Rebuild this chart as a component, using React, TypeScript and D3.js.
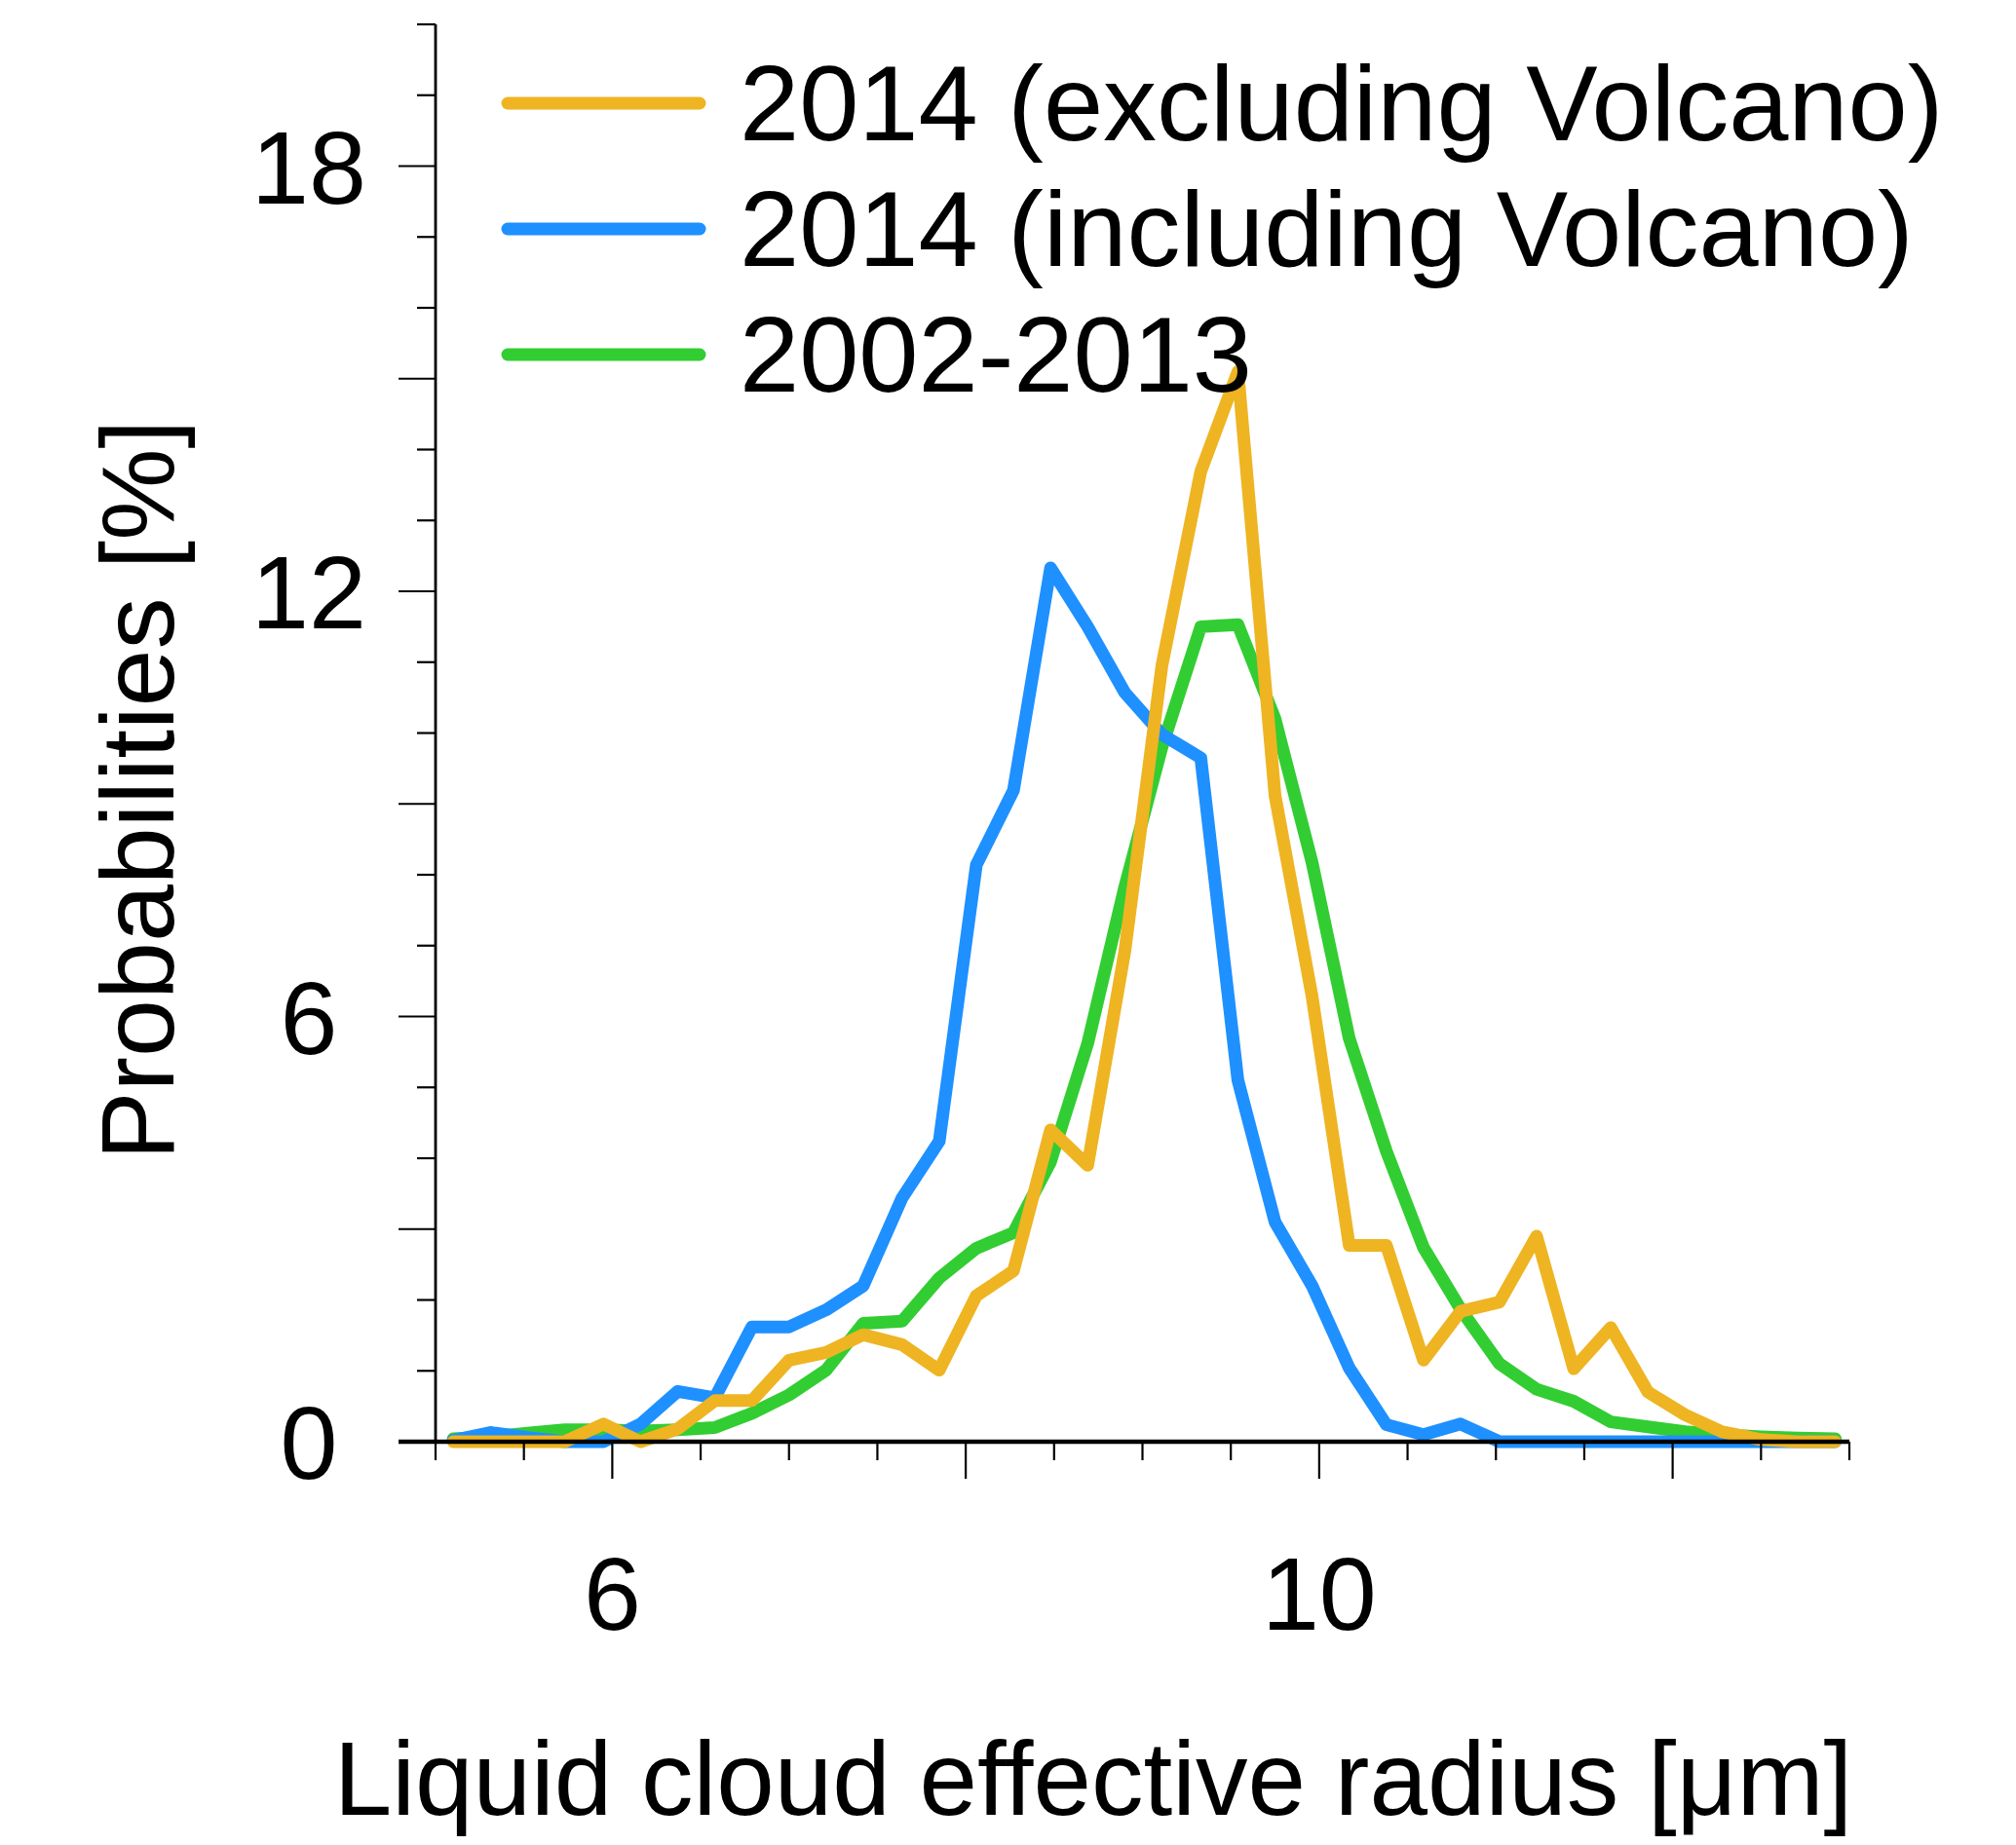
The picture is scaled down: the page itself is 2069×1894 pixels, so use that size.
import React from "react";
import * as d3 from "d3";

// Liquid cloud effective radius bin centres [µm]
const radius: number[] = [
  5.10, 5.31, 5.52, 5.73, 5.95, 6.16, 6.37, 6.58, 6.79, 7.00,
  7.21, 7.42, 7.64, 7.85, 8.06, 8.27, 8.48, 8.69, 8.90, 9.11,
  9.33, 9.54, 9.75, 9.96, 10.17, 10.38, 10.59, 10.80, 11.02, 11.23,
  11.44, 11.65, 11.86, 12.07, 12.28, 12.50, 12.71, 12.92,
];

// Probabilities [%]
const excludingVolcano: number[] = [
  0, 0, 0, 0, 0.25, 0.0, 0.18, 0.58, 0.58, 1.15,
  1.26, 1.51, 1.37, 1.01, 2.06, 2.41, 4.4, 3.9, 6.92, 10.95,
  13.69, 15.1, 9.12, 6.28, 2.77, 2.77, 1.15, 1.84, 1.97, 2.9,
  1.03, 1.61, 0.7, 0.38, 0.14, 0.03, 0, 0,
];

const includingVolcano: number[] = [
  0.02, 0.13, 0.06, 0, 0, 0.25, 0.71, 0.62, 1.62, 1.62,
  1.86, 2.2, 3.44, 4.24, 8.14, 9.19, 12.33, 11.5, 10.57, 9.98,
  9.65, 5.1, 3.1, 2.2, 1.04, 0.24, 0.1, 0.25, 0, 0,
  0, 0, 0, 0, 0, 0, 0, 0,
];

const climatology: number[] = [
  0.04, 0.07, 0.12, 0.17, 0.17, 0.15, 0.17, 0.2, 0.4, 0.66,
  1.01, 1.67, 1.7, 2.31, 2.73, 2.95, 3.95, 5.62, 7.83, 9.8,
  11.5, 11.53, 10.2, 8.17, 5.69, 4.1, 2.74, 1.87, 1.1, 0.74,
  0.57, 0.28, 0.21, 0.14, 0.1, 0.07, 0.05, 0.04,
];

const seriesNames: string[] = [
  "2014 (excluding Volcano)",
  "2014 (including Volcano)",
  "2002-2013",
];
const seriesColors: string[] = ["#EEB422", "#1E90FF", "#32CD32"];

const yTickLabels: number[] = [0, 6, 12, 18];
const xTickLabels: number[] = [6, 10];

const xTitle = "Liquid cloud effective radius [\u03bcm]";
const yTitle = "Probabilities [%]";

const FONT = "'Liberation Sans', Arial, Helvetica, sans-serif";

export default function App() {
  const W = 2069;
  const H = 1894;
  const x = d3.scaleLinear().domain([5, 13]).range([447, 1898]);
  const y = d3.scaleLinear().domain([0, 20]).range([1480, 25]);

  const seriesValues = [excludingVolcano, includingVolcano, climatology];
  const line = (vals: number[]) =>
    d3
      .line<number>()
      .x((_, i) => x(radius[i]))
      .y((v) => y(v))(vals) as string;

  // draw order: green, blue, orange (orange on top)
  const drawOrder = [2, 1, 0];

  const yMinor = d3.range(0, 21, 1);
  const xMinor = d3.range(5, 13.01, 0.5);

  const x0 = x(5);
  const yBase = y(0);

  return (
    <svg
      width={W}
      height={H}
      style={{ position: "absolute", left: 0, top: 0, background: "#fff" }}
      fontFamily={FONT}
    >
      <rect x={0} y={0} width={W} height={H} fill="#fff" />

      {/* data lines */}
      {drawOrder.map((k) => (
        <path
          key={k}
          d={line(seriesValues[k])}
          fill="none"
          stroke={seriesColors[k]}
          strokeWidth={13}
          strokeLinejoin="round"
          strokeLinecap="round"
        />
      ))}

      {/* y axis */}
      <line x1={x0} x2={x0} y1={y(20)} y2={yBase} stroke="#000" strokeWidth={2.8} />
      {yMinor.map((v) => {
        const major = v % 3 === 0;
        return (
          <line
            key={"yt" + v}
            x1={x0 - (major ? 38 : 19)}
            x2={x0}
            y1={y(v)}
            y2={y(v)}
            stroke="#000"
            strokeWidth={2.2}
          />
        );
      })}
      {yTickLabels.map((v) => (
        <text
          key={"yl" + v}
          x={317}
          y={y(v) + 38}
          fontSize={106}
          textAnchor="middle"
          fill="#000"
        >
          {v}
        </text>
      ))}

      {/* x axis */}
      <line x1={x0 - 38} x2={x(13)} y1={yBase} y2={yBase} stroke="#000" strokeWidth={4.5} />
      {xMinor.map((v) => {
        const major = Math.abs(v % 2) < 1e-6 && v > 5.5 && v < 12.5;
        return (
          <line
            key={"xt" + v}
            x1={x(v)}
            x2={x(v)}
            y1={yBase}
            y2={yBase + (major ? 38 : 19)}
            stroke="#000"
            strokeWidth={2.2}
          />
        );
      })}
      {xTickLabels.map((v) => (
        <text
          key={"xl" + v}
          x={x(v)}
          y={1673}
          fontSize={106}
          textAnchor="middle"
          fill="#000"
        >
          {v}
        </text>
      ))}

      {/* axis titles */}
      <text x={1122} y={1863} fontSize={107} textAnchor="middle" fill="#000">
        {xTitle}
      </text>
      <text
        transform={`translate(178, 811) rotate(-90)`}
        fontSize={106}
        textAnchor="middle"
        fill="#000"
      >
        {yTitle}
      </text>

      {/* legend */}
      {seriesNames.map((name, i) => {
        const ly = 106 + i * 129;
        return (
          <g key={"lg" + i}>
            <line
              x1={521}
              x2={718}
              y1={ly}
              y2={ly}
              stroke={seriesColors[i]}
              strokeWidth={13}
              strokeLinecap="round"
            />
            <text x={759} y={ly + 38} fontSize={110} fill="#000">
              {name}
            </text>
          </g>
        );
      })}
    </svg>
  );
}
